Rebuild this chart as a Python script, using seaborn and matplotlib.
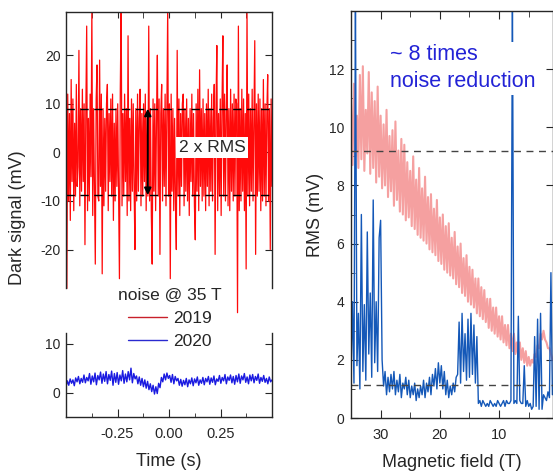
import numpy as np
import pandas as pd
import matplotlib
matplotlib.use('Agg')
import matplotlib.pyplot as plt
from matplotlib.lines import Line2D
import seaborn as sns

# dark signal at 35 T, 2019 (mV) left to right
dark_2019 = [
    23, -28, 12, -10, 8, -14, 15, -6, 11, -12, 6, -9, 14, -7, -3, 21, -11, 9, -8, 13,
    -6, 10, -19, 8, 26, -12, 7, -10, 12, -5, 30, -13, 9, -8, -23, 11, 18, -9, -10, 19,
    -7, 12, -25, 9, -11, 7, -8, 10, 14, -12, 8, -6, 11, -9, 12, -14, 6, -10, 9, -7,
    10, -8, -26, 13, 30, -11, 8, -9, 12, -6, 9, -13, 24, -10, 7, -12, 11, -8, 10, -7,
    -20, 9, -10, 12, -8, 7, 13, -11, 8, -9, 10, -6, 12, -12, 7, -9, 26, -10, 9, -13,
    -23, 11, -8, 10, -12, 7, 20, -9, 11, -21, 8, 14, -10, 9, -7, 12, -11, 8, 30, -9,
    10, -26, 12, -8, 9, -12, 7, -10, -20, 21, -9, 11, -13, 8, -7, 10, 12, -11, 9, -8,
    11, -10, 7, -13, 9, -6, 12, -9, 8, -11, -18, 10, -8, 13, -12, 17, -7, 9, -10, 11,
    -9, 8, -12, 10, -7, 13, -11, 9, -8, 12, -10, 7, 14, -21, 9, 22, -12, 8, -9, 11,
    -13, 10, 24, -9, 12, -10, 8, 18, -11, 9, -12, 13, -8, 10, -10, 12, -9, 11, 10, -33,
    26, -12, 9, -10, 13, -8, 11, -12, 8, -24, 30, -9, 12, -11, 9, -8, 13, -10, 7, 23,
    -21, 10, -9, 12, -8, 11, -12, 9, -10, 15, -9, 10, -11, 8, 16, -10, 9, -20, 11, -7,
]

# dark signal at 35 T, 2020 (mV)
dark_2020 = [
    1.2, 2.4, 1.5, 2.8, 1.9, 2.6, 1.4, 3.0, 2.2, 3.3, 1.8, 2.9, 2.1, 3.6, 2.0,
    3.1, 2.4, 3.9, 1.7, 3.4, 2.2, 4.0, 1.6, 3.5, 2.6, 4.2, 1.9, 3.8, 2.3, 4.3,
    1.8, 3.7, 2.5, 4.4, 1.5, 3.9, 2.1, 4.1, 1.7, 3.6, 2.4, 4.5, 1.9, 3.8, 2.2,
    4.3, 2.6, 5.0, 2.0, 3.9, 2.8, 3.4, 1.8, 3.2, 1.5, 2.9, 1.2, 2.6, 0.9, 2.3,
    0.6, 1.8, 0.2, 1.5, -0.3, 1.2, -0.2, 1.9, 1.0, 3.1, 2.2, 3.8, 2.6, 4.0, 2.9,
    3.5, 2.1, 3.7, 1.8, 3.3, 2.4, 2.9, 1.5, 2.7, 1.3, 2.5, 1.6, 2.9, 1.2, 2.6,
    1.8, 3.0, 1.4, 2.8, 2.0, 3.2, 1.5, 2.6, 1.9, 3.1, 1.6, 2.9, 2.2, 3.3, 1.7,
    3.0, 2.1, 3.4, 1.6, 2.8, 2.3, 3.5, 1.9, 3.1, 2.4, 3.7, 1.8, 3.2, 2.5, 3.6,
    2.0, 3.3, 1.7, 3.5, 2.2, 3.8, 1.9, 3.4, 2.6, 3.9, 2.1, 3.2, 1.8, 3.6, 2.4,
    3.7, 2.0, 3.3, 2.5, 3.8, 1.9, 3.1, 2.3, 3.5, 2.1, 2.9, 1.8, 3.2, 2.2, 2.6,
]

# RMS vs field, 35 T down to 1 T in 0.25 T steps (mV)
rms_2019 = [
    10.8, 8.7, 11.5, 9.0, 10.4, 8.6, 11.8, 8.9, 12.1, 8.5, 10.6, 9.1,
    11.9, 8.4, 11.2, 8.6, 10.9, 8.1, 11.4, 8.3, 10.4, 7.9, 10.1, 8.0,
    10.6, 7.6, 9.7, 7.8, 9.9, 7.3, 10.2, 7.5, 9.2, 7.1, 9.6, 7.0,
    9.4, 6.8, 8.8, 6.9, 8.5, 6.6, 9.0, 6.5, 8.2, 6.3, 8.6, 6.2,
    7.9, 6.1, 8.3, 6.0, 7.6, 5.8, 7.7, 5.7, 7.2, 5.6, 7.5, 5.4,
    6.9, 5.3, 7.0, 5.1, 6.6, 5.0, 6.7, 4.9, 6.2, 4.8, 6.4, 4.6,
    5.9, 4.5, 6.0, 4.3, 5.5, 4.2, 5.6, 4.0, 5.2, 3.9, 5.1, 3.8,
    4.8, 3.6, 4.8, 3.5, 4.5, 3.4, 4.4, 3.3, 4.1, 3.1, 4.1, 3.0,
    3.8, 2.9, 3.8, 2.8, 3.5, 2.7, 3.5, 2.6, 3.2, 2.5, 3.2, 2.4,
    2.9, 2.3, 2.9, 2.2, 2.6, 2.1, 2.6, 2.0, 2.4, 1.9, 2.3, 1.8,
    2.1, 1.8, 2.0, 1.9, 2.2, 2.1, 2.5, 2.4, 2.9, 2.7, 3.0, 2.7,
    2.6, 2.4, 2.4, 2.2, 2.0,
]
rms_2020 = [
    1.5, 4.0, 1.2, 14.5, 1.8, 3.6, 1.0, 7.0, 1.6, 3.9, 1.3, 6.4,
    2.2, 4.3, 1.4, 7.5, 1.9, 4.0, 1.6, 6.2, 6.8, 2.0, 1.1, 1.6,
    0.8, 1.4, 0.9, 1.5, 1.0, 1.6, 0.8, 1.3, 0.9, 1.5, 0.7, 1.2,
    1.0, 1.4, 0.8, 1.3, 0.7, 1.1, 0.8, 1.2, 0.6, 1.0, 0.7, 1.1,
    0.8, 1.3, 0.7, 1.2, 0.9, 1.4, 0.8, 1.5, 1.1, 1.7, 1.0, 1.9,
    1.2, 1.8, 1.0, 1.6, 0.8, 1.3, 0.7, 1.1, 0.8, 1.2, 0.9, 1.4,
    1.5, 3.3, 1.2, 3.6, 1.6, 2.9, 1.3, 3.4, 1.4, 3.6, 1.5, 3.2,
    1.2, 2.8, 0.5, 0.6, 0.4, 0.6, 0.5, 0.4, 0.5, 0.4, 0.6, 0.5,
    0.4, 0.5, 0.4, 0.6, 0.5, 0.4, 0.5, 0.6, 0.4, 0.6, 0.5, 0.5,
    0.6, 14.5, 0.5, 0.6, 0.5, 3.5, 0.6, 0.5, 0.5, 1.8, 0.4, 0.6,
    0.4, 0.5, 0.3, 0.4, 2.8, 0.4, 3.4, 0.3, 3.6, 0.3, 0.8, 0.7,
    0.6, 0.9, 0.7, 5.0, 0.8,
]
field_lim = (35, 1)
rms_levels = [9.2, 1.15]
rms_arrow = (9.0, -8.8)

time_2019 = np.linspace(-0.5, 0.5, len(dark_2019))
time_2020 = np.linspace(-0.5, 0.5, len(dark_2020))
field = np.linspace(field_lim[0], field_lim[1], len(rms_2019))

sns.set_style('ticks')
plt.rcParams['font.family'] = ['Liberation Sans', 'DejaVu Sans']
plt.rcParams['axes.unicode_minus'] = False
plt.rcParams['xtick.direction'] = 'in'
plt.rcParams['ytick.direction'] = 'in'
plt.rcParams['axes.linewidth'] = 1.0

W, H = 553, 471
fig = plt.figure(figsize=(W / 100, H / 100), dpi=100)
ax_top = fig.add_axes([66 / W, 1 - 322.4 / H, 206 / W, 310.4 / H])
ax_bot = fig.add_axes([66 / W, 1 - 417 / H, 206 / W, 84 / H])
ax_rms = fig.add_axes([351 / W, 1 - 418 / H, 202 / W, 407 / H])

red = '#ff0a0a'
blue = '#1a1ae0'

# --- top left: 2019 noise
sns.lineplot(x=time_2019, y=dark_2019, ax=ax_top, color=red, lw=0.9, estimator=None)
for lvl in rms_arrow:
    ax_top.axhline(lvl, color='k', ls=(0, (6, 4)), lw=1.0)
ax_top.annotate('', xy=(-0.103, rms_arrow[1]), xytext=(-0.103, rms_arrow[0]),
                arrowprops=dict(arrowstyle='<|-|>', color='k', lw=1.4,
                                mutation_scale=10, shrinkA=0, shrinkB=0))
ax_top.text(0.209, 1.0, '2 x RMS', fontsize=12.6, ha='center', va='center',
            bbox=dict(facecolor='white', edgecolor='none', pad=2))
ax_top.set_xlim(-0.5, 0.5)
ax_top.set_ylim(-35, 28.9)
ax_top.set_yticks([-20, -10, 0, 10, 20])
ax_top.set_xticks([-0.25, 0, 0.25])
ax_top.set_xticks([-0.375, -0.125, 0.125, 0.375], minor=True)
ax_top.tick_params(axis='x', which='both', bottom=False, top=True,
                   labelbottom=False, length=4)
ax_top.tick_params(axis='y', left=True, right=True, length=5, labelsize=10, pad=4)
ax_top.spines['bottom'].set_visible(False)
ax_top.spines['left'].set_bounds(-28, 28.9)
ax_top.spines['right'].set_bounds(-28, 28.9)
ax_top.set_xlabel('')
ax_top.set_ylabel('')

# --- bottom left: 2020 noise
sns.lineplot(x=time_2020, y=dark_2020, ax=ax_bot, color=blue, lw=1.0, estimator=None)
ax_bot.set_xlim(-0.5, 0.5)
ax_bot.set_ylim(-5, 12.2)
ax_bot.set_yticks([0, 10])
ax_bot.set_xticks([-0.25, 0, 0.25])
ax_bot.set_xticklabels(['-0.25', '0.00', '0.25'])
ax_bot.set_xticks([-0.375, -0.125, 0.125, 0.375], minor=True)
ax_bot.tick_params(axis='x', which='major', length=6, labelsize=10.5, top=False, pad=7)
ax_bot.tick_params(axis='x', which='minor', length=3, top=False)
ax_bot.tick_params(axis='y', left=True, right=True, length=5, labelsize=10, pad=4)
ax_bot.spines['top'].set_visible(False)
ax_bot.set_xlabel('Time (s)', fontsize=13, labelpad=9)
ax_bot.set_ylabel('')

fig.text(18 / W, 1 - 218 / H, 'Dark signal (mV)', rotation=90, fontsize=13,
         ha='center', va='center')

leg_handles = [Line2D([], [], color='#c8202a', lw=1.0),
               Line2D([], [], color='#2a2ad0', lw=1.0)]
fig.legend(handles=leg_handles, labels=['2019', '2020'], title='noise @ 35 T',
           loc='upper center', bbox_to_anchor=(169.5 / W, 1 - 288 / H),
           frameon=False, fontsize=12.5, title_fontsize=12.5, handlelength=2.3,
           handletextpad=0.3, labelspacing=0.45, borderpad=0, borderaxespad=0)

# --- right: RMS vs magnetic field
sns.lineplot(x=field, y=rms_2019, ax=ax_rms, color='#f5a0a0', lw=1.5, estimator=None)
sns.lineplot(x=field, y=rms_2020, ax=ax_rms, color='#1458b8', lw=1.0, estimator=None)
for lvl in rms_levels:
    ax_rms.axhline(lvl, color='#444444', ls=(0, (5, 4)), lw=1.0)
ax_rms.text(28.4, 12.85, '~ 8 times\nnoise reduction', color='#2323d6', fontsize=15.5,
            ha='left', va='top', linespacing=1.35,
            bbox=dict(facecolor='white', edgecolor='none', pad=2))
ax_rms.set_xlim(35, 0.9)
ax_rms.set_ylim(0, 14)
ax_rms.set_yticks(range(0, 13, 2))
ax_rms.set_yticks(range(1, 14, 2), minor=True)
ax_rms.set_xticks([30, 20, 10])
ax_rms.set_xticks([35, 25, 15, 5], minor=True)
ax_rms.tick_params(axis='x', which='major', length=6, labelsize=10.5, top=True, pad=7)
ax_rms.tick_params(axis='x', which='minor', length=4, top=True)
ax_rms.tick_params(axis='y', which='major', length=5, labelsize=10, right=True, pad=5)
ax_rms.tick_params(axis='y', which='minor', length=3, right=False)
ax_rms.set_xlabel('Magnetic field (T)', fontsize=13, labelpad=9)
ax_rms.set_ylabel('RMS (mV)', fontsize=13, labelpad=3)

fig.savefig('out.png', dpi=100, facecolor='white')
